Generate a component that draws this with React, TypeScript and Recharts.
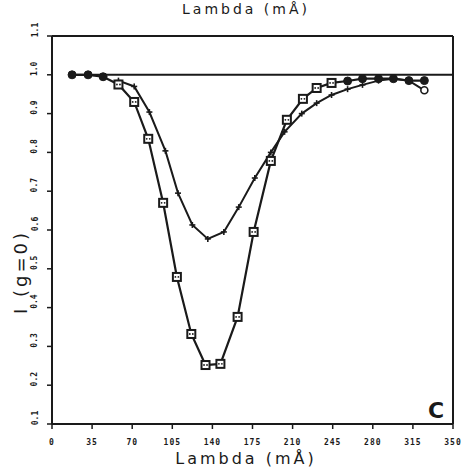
import React from 'react';
import {
  ComposedChart,
  Line,
  XAxis,
  YAxis,
} from 'recharts';

// wavelength offsets (mA) and normalised intensities
const deepX = [17.5, 31.5, 44.6, 58, 71.75, 84, 97, 109, 121.6, 134, 147, 162, 176, 191, 205, 219, 231, 244, 258, 271, 285, 298, 311.5, 325];
const deepY = [1.0, 1.0, 0.995, 0.975, 0.93, 0.835, 0.67, 0.479, 0.332, 0.252, 0.255, 0.376, 0.595, 0.778, 0.884, 0.938, 0.966, 0.979, 0.984, 0.99, 0.99, 0.99, 0.985, 0.985];

const shallowX = [58, 71.75, 85, 99, 110, 122.5, 136, 150, 163, 177, 191, 203, 218, 231, 244, 258, 271, 285, 298, 311.5, 325];
const shallowY = [0.985, 0.97, 0.904, 0.804, 0.695, 0.613, 0.577, 0.595, 0.659, 0.734, 0.8, 0.853, 0.9, 0.927, 0.948, 0.963, 0.974, 0.985, 0.99, 0.985, 0.96];

const contX = [17.5, 350];
const contY = [1.0, 1.0];

const xTicks = [0, 35, 70, 105, 140, 175, 210, 245, 280, 315, 350];
const yTicks = [0.1, 0.2, 0.3, 0.4, 0.5, 0.6, 0.7, 0.8, 0.9, 1.0, 1.1];

const deepData = deepX.map((x, i) => ({ x, y: deepY[i] }));
const shallowData = shallowX.map((x, i) => ({ x, y: shallowY[i] }));
const contData = contX.map((x, i) => ({ x, y: contY[i] }));

const INK = '#1a1a1a';
const tickFont = { fontFamily: '"DejaVu Sans Mono", monospace', fontSize: 8, fontWeight: 700, fill: INK };

// squares in the dip, filled circles on the wings
const DeepDot = (props: any) => {
  const { cx, cy, index } = props;
  const x = deepX[index];
  if (x < 50 || x > 250) {
    return <circle key={`d${index}`} cx={cx} cy={cy} r={4} fill={INK} stroke={INK} />;
  }
  return (
    <g key={`d${index}`}>
      <rect x={cx - 4} y={cy - 4} width={8} height={8} fill="#fff" stroke={INK} strokeWidth={2} />
      <circle cx={cx - 1.5} cy={cy} r={0.9} fill={INK} />
      <circle cx={cx + 1.5} cy={cy} r={0.9} fill={INK} />
    </g>
  );
};

const PlusDot = (props: any) => {
  const { cx, cy, index } = props;
  if (index === shallowX.length - 1) {
    return <circle key={`p${index}`} cx={cx} cy={cy} r={3.5} fill="#fff" stroke={INK} strokeWidth={1.6} />;
  }
  return (
    <g key={`p${index}`} stroke={INK} strokeWidth={1.6}>
      <line x1={cx - 3} y1={cy} x2={cx + 3} y2={cy} />
      <line x1={cx} y1={cy - 3} x2={cx} y2={cy + 3} />
    </g>
  );
};

const XTick = (props: any) => {
  const { x, y, payload } = props;
  return (
    <text x={x} y={y + 14} textAnchor="middle" style={tickFont} letterSpacing={1}>
      {payload.value}
    </text>
  );
};

const YTick = (props: any) => {
  const { y, payload } = props;
  const ty = y - 6;
  return (
    <text
      x={35}
      y={ty}
      textAnchor="middle"
      dominantBaseline="central"
      transform={`rotate(-90, 35, ${ty})`}
      style={tickFont}
    >
      {payload.value.toFixed(1)}
    </text>
  );
};

export default function App() {
  return (
    <div style={{ position: 'absolute', left: 0, top: 0, width: 474, height: 472, background: '#fff' }}>
      <ComposedChart width={474} height={472} margin={{ top: 26, right: 11, bottom: 18, left: 12 }}>
        <XAxis
          xAxisId="b"
          type="number"
          dataKey="x"
          domain={[0, 350]}
          ticks={xTicks}
          height={30}
          axisLine={{ stroke: INK, strokeWidth: 2 }}
          tickLine={{ stroke: INK, strokeWidth: 1.5 }}
          tickSize={5}
          tick={<XTick />}
          allowDataOverflow
        />
        <XAxis
          xAxisId="t"
          orientation="top"
          type="number"
          domain={[0, 350]}
          ticks={xTicks}
          height={10}
          axisLine={{ stroke: INK, strokeWidth: 2 }}
          tickLine={{ stroke: INK, strokeWidth: 1.5 }}
          tickSize={5}
          tick={false}
          allowDataOverflow
        />
        <YAxis
          yAxisId="l"
          type="number"
          domain={[0.1, 1.1]}
          ticks={yTicks}
          width={40}
          axisLine={{ stroke: INK, strokeWidth: 2 }}
          tickLine={{ stroke: INK, strokeWidth: 1.5 }}
          tickSize={5}
          tick={<YTick />}
          allowDataOverflow
        />
        <YAxis
          yAxisId="r"
          orientation="right"
          type="number"
          domain={[0.1, 1.1]}
          ticks={yTicks}
          width={10}
          axisLine={{ stroke: INK, strokeWidth: 2 }}
          tickLine={{ stroke: INK, strokeWidth: 1.5 }}
          tickSize={5}
          tick={false}
          allowDataOverflow
        />
        <Line
          xAxisId="b"
          yAxisId="l"
          data={contData}
          dataKey="y"
          type="linear"
          stroke={INK}
          strokeWidth={2}
          dot={false}
          isAnimationActive={false}
        />
        <Line
          xAxisId="b"
          yAxisId="l"
          data={shallowData}
          dataKey="y"
          type="linear"
          stroke={INK}
          strokeWidth={2}
          dot={<PlusDot />}
          isAnimationActive={false}
        />
        <Line
          xAxisId="b"
          yAxisId="l"
          data={deepData}
          dataKey="y"
          type="linear"
          stroke={INK}
          strokeWidth={2.2}
          dot={<DeepDot />}
          isAnimationActive={false}
        />
        <text x={246} y={14} textAnchor="middle" fontFamily="'DejaVu Sans', sans-serif" fontSize={14} letterSpacing={3} fill={INK}>
          Lambda (mÅ)
        </text>
        <text x={246} y={464} textAnchor="middle" fontFamily="'DejaVu Sans', sans-serif" fontSize={16} letterSpacing={3} fill={INK}>
          Lambda (mÅ)
        </text>
        <text
          x={20}
          y={272}
          textAnchor="middle"
          dominantBaseline="central"
          transform="rotate(-90, 20, 272)"
          fontFamily="'DejaVu Sans', sans-serif"
          fontSize={18}
          letterSpacing={3}
          fill={INK}
        >
          I (g=0)
        </text>
        <text x={436} y={418} textAnchor="middle" fontFamily="'DejaVu Sans', sans-serif" fontSize={22} fontWeight={700} fill={INK}>
          C
        </text>
      </ComposedChart>
    </div>
  );
}
